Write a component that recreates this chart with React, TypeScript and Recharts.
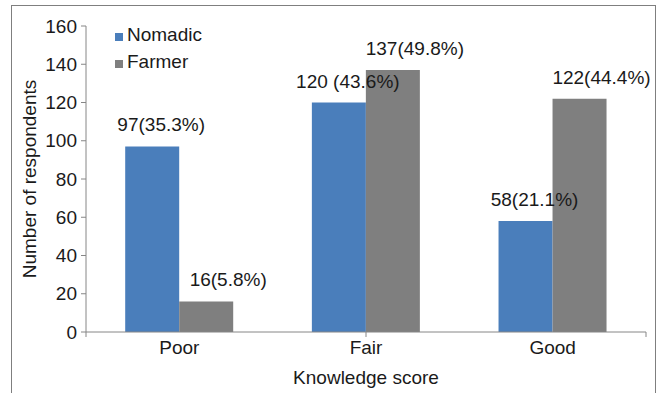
import { BarChart, Bar, XAxis, YAxis, LabelList, Legend, ReferenceLine } from 'recharts'

const categories = ['Poor', 'Fair', 'Good']
const nomadic = [97, 120, 58]
const farmer = [16, 137, 122]
const nomadicLabels = ['97(35.3%)', '120 (43.6%)', '58(21.1%)']
const farmerLabels = ['16(5.8%)', '137(49.8%)', '122(44.4%)']
const seriesNames = ['Nomadic', 'Farmer']
const yTicks = [0, 20, 40, 60, 80, 100, 120, 140, 160]
const boundaries = [0, 1, 2, 3]

const BLUE = '#4a7ebb'
const GRAY = '#7f7f7f'
const AXIS = '#868686'
const TEXT = '#1a1a1a'
const FONT = 19

const data = categories.map((c, i) => ({
  category: c,
  nomadic: nomadic[i],
  farmer: farmer[i],
  nomadicLabel: nomadicLabels[i],
  farmerLabel: farmerLabels[i],
}))

// excel puts labels a bit right of the bar centre
const barLabel = (dx: number) => (props: any) => {
  const { x, y, width, value } = props
  return (
    <text x={Number(x) + Number(width) / 2 + dx} y={Number(y) - 15} textAnchor="middle" fontSize={FONT} fill={TEXT}>
      {value}
    </text>
  )
}

const renderLegend = (props: any) => {
  const items = [...(props.payload || [])].sort(
    (a: any, b: any) => seriesNames.indexOf(a.value) - seriesNames.indexOf(b.value)
  )
  return (
    <div style={{ fontSize: FONT, lineHeight: '27px', color: TEXT, whiteSpace: 'nowrap' }}>
      {items.map((p: any) => (
        <div key={p.value}>
          <span style={{ display: 'inline-block', width: 8, height: 8, background: p.color, marginRight: 4 }} />
          {p.value}
        </div>
      ))}
    </div>
  )
}

const yTitle = (props: any) => {
  const vb = props.viewBox || { x: 0, y: 0, height: 0 }
  const cx = vb.x + 36
  const cy = vb.y + vb.height / 2
  return (
    <text x={cx} y={cy} transform={`rotate(-90 ${cx} ${cy})`} textAnchor="middle" fontSize={FONT} fill={TEXT}>
      Number of respondents
    </text>
  )
}

const App = () => {
  return (
    <div style={{ position: 'fixed', left: 0, top: 0, width: 659, height: 393, overflow: 'hidden', background: '#fff', fontFamily: "'Liberation Sans', Arial, sans-serif" }}>
      <div style={{ position: 'absolute', left: 11, top: 5, width: 645, height: 420, border: `1px solid ${GRAY}`, boxSizing: 'border-box' }} />
      <div style={{ position: 'absolute', left: 0, top: 0 }}>
        <BarChart width={659} height={393} data={data} margin={{ top: 26, right: 13, bottom: 0, left: 0 }} barCategoryGap="21%" barGap={0}>
          <XAxis
            dataKey="category"
            height={61}
            tickLine={false}
            tickSize={0}
            tickMargin={9}
            axisLine={{ stroke: AXIS }}
            tick={{ fontSize: FONT, fill: TEXT }}
            label={{ value: 'Knowledge score', position: 'insideBottom', offset: 9, fontSize: FONT, fill: TEXT }}
          />
          <XAxis xAxisId="edges" type="number" domain={[0, 3]} ticks={boundaries} allowDataOverflow hide />
          <YAxis
            width={86}
            domain={[0, 160]}
            ticks={yTicks}
            interval={0}
            tickSize={5}
            tickMargin={4}
            axisLine={{ stroke: AXIS }}
            tickLine={{ stroke: AXIS }}
            tick={{ fontSize: FONT, fill: TEXT }}
            label={yTitle}
          />
          <Legend layout="vertical" align="center" verticalAlign="middle" content={renderLegend} wrapperStyle={{ left: 115, top: 21, width: 'auto' }} />
          {boundaries.map((b) => (
            <ReferenceLine
              key={b}
              xAxisId="edges"
              segment={[{ x: b, y: 0 }, { x: b, y: -2.6 }]}
              stroke={AXIS}
              ifOverflow="visible"
            />
          ))}
          <Bar dataKey="nomadic" name="Nomadic" fill={BLUE} isAnimationActive={false}>
            <LabelList dataKey="nomadicLabel" content={barLabel(9)} />
          </Bar>
          <Bar dataKey="farmer" name="Farmer" fill={GRAY} isAnimationActive={false}>
            <LabelList dataKey="farmerLabel" content={barLabel(22)} />
          </Bar>
        </BarChart>
      </div>
    </div>
  )
}

export default App
